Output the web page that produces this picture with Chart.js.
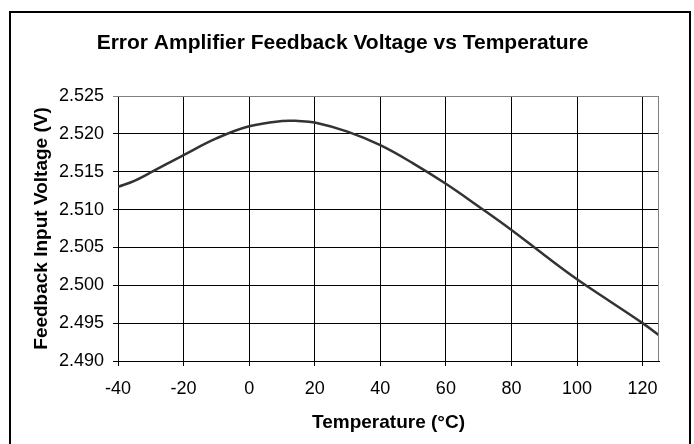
<!DOCTYPE html>
<html>
<head>
<meta charset="utf-8">
<script src="https://cdn.jsdelivr.net/npm/chart.js@4"></script>
<style>
  html, body { margin: 0; padding: 0; background: #fff; }
  #wrap { width: 694px; height: 444px; }
</style>
</head>
<body>
<div id="wrap"><canvas id="chartTemp" width="694" height="444"></canvas></div>
<script>
// temperature (°C) and feedback voltage (V)
const temps = [-40, -35, -30, -20, -10, 0, 10, 15, 20, 30, 40, 50, 60, 70, 80, 90, 100, 110, 120, 125];
const volts = [2.5130, 2.5138, 2.5149, 2.5172, 2.5194, 2.5210, 2.5217, 2.5217, 2.5215, 2.5203, 2.5185, 2.5161, 2.5134, 2.5104, 2.5073, 2.5040, 2.5008, 2.4979, 2.4950, 2.4934];

const xMin = -40, xMax = 125, xStep = 20;
const yMin = 2.490, yMax = 2.525, yStep = 0.005;

const points = temps.map((t, i) => ({ x: t, y: volts[i] }));

// outer frame + grey top/right edge of the plot
const frame = {
    id: 'frame',
    beforeDraw(chart) {
        const c = chart.ctx;
        c.save();
        c.fillStyle = '#fff';
        c.fillRect(0, 0, chart.width, chart.height);
        c.restore();
    },
    afterDraw(chart) {
        const c = chart.ctx;
        const a = chart.chartArea;
        c.save();
        c.strokeStyle = '#808080';
        c.lineWidth = 1;
        c.beginPath();
        c.moveTo(a.left, a.top + 0.5);
        c.lineTo(a.right - 0.5, a.top + 0.5);
        c.lineTo(a.right - 0.5, a.bottom);
        c.stroke();
        c.strokeStyle = '#000';
        c.lineWidth = 2;
        c.strokeRect(10, 12, 680, 440);
        c.restore();
    }
};

const ctxTemp = document.getElementById('chartTemp');
const chartTemp = new Chart(ctxTemp, {
    type: 'line',
    data: {
        datasets: [{
            data: points,
            borderColor: '#333333',
            borderWidth: 2.5,
            pointRadius: 0,
            tension: 0.4,
            fill: false
        }]
    },
    options: {
        responsive: false,
        animation: false,
        layout: { padding: { left: 26, right: 35, top: 0, bottom: 6 } },
        plugins: {
            legend: { display: false },
            tooltip: { enabled: false },
            title: {
                display: true,
                text: 'Error Amplifier Feedback Voltage vs Temperature',
                color: '#000',
                font: { family: 'Liberation Sans', size: 21, weight: 'bold' },
                padding: { top: 30.5, bottom: 40.3 }
            }
        },
        scales: {
            x: {
                type: 'linear',
                min: xMin,
                max: xMax,
                afterFit(scale) { scale.height = 77; },
                ticks: {
                    stepSize: xStep,
                    includeBounds: false,
                    color: '#000',
                    padding: 12,
                    maxRotation: 0,
                    font: { family: 'Liberation Sans', size: 18 }
                },
                grid: { color: '#000', lineWidth: 1, tickLength: 5 },
                border: { color: '#000', width: 1 },
                title: {
                    display: true,
                    text: 'Temperature (°C)',
                    color: '#000',
                    font: { family: 'Liberation Sans', size: 19, weight: 'bold' },
                    padding: { top: 4, bottom: 4 }
                }
            },
            y: {
                min: yMin,
                max: yMax,
                afterFit(scale) { scale.width = 92; },
                ticks: {
                    stepSize: yStep,
                    color: '#000',
                    padding: 9,
                    font: { family: 'Liberation Sans', size: 18 },
                    callback: v => v.toFixed(3)
                },
                grid: {
                    color: c => (c.tick && Math.abs(c.tick.value - yMax) < 1e-6) ? '#808080' : '#000',
                    lineWidth: 1,
                    tickLength: 5
                },
                border: { color: '#000', width: 1 },
                title: {
                    display: true,
                    text: 'Feedback Input Voltage (V)',
                    color: '#000',
                    font: { family: 'Liberation Sans', size: 19, weight: 'bold' },
                    padding: { top: 4, bottom: 4 }
                }
            }
        }
    },
    plugins: [frame]
});
</script>
</body>
</html>
